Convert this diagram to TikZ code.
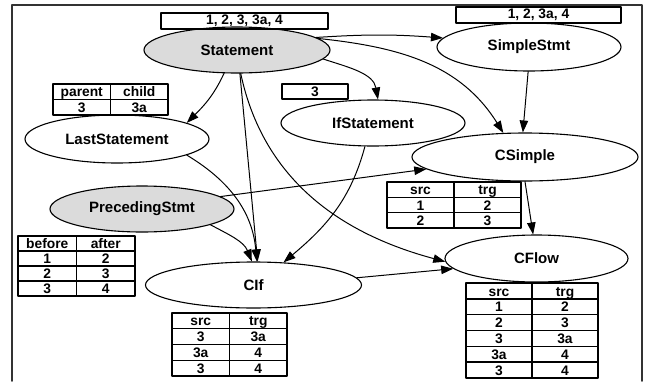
\documentclass[tikz,border=0pt]{standalone}
\usepackage{fontspec}
\setmainfont{Liberation Sans}
\usetikzlibrary{arrows.meta}
\usetikzlibrary{shapes.geometric}
\usetikzlibrary{matrix}
\definecolor{litegray}{gray}{0.86}
\tikzset{
  cls/.style={ellipse, draw, line width=1.1pt, inner sep=0pt, font=\fontsize{15}{18}\selectfont\bfseries},
  hit/.style={cls, fill=litegray},
  idbox/.style={draw, line width=1.1pt, inner sep=0pt, font=\fontsize{13.8}{16}\selectfont\bfseries},
  tbl/.style 2 args={matrix of nodes, column sep=-1.3pt, row sep=-1.3pt,
    nodes={draw, line width=1.3pt, inner sep=0pt, anchor=center, text height=10pt, text depth=0pt,
      minimum width=#1pt, minimum height=#2pt, font=\fontsize{13.8}{16}\selectfont\bfseries}},
}

\begin{document}
\begin{tikzpicture}[line cap=round,line join=round,>={Triangle[length=12pt,width=8.5pt]},x=1pt,y=-1pt]
\useasboundingbox (0,0) rectangle (649,381);
\draw [line width=1.5pt, color=black!80] (12,381)--(12,5)--(642,5)--(642,381);
% classes
\node[hit, minimum width=186pt, minimum height=46pt] (stmt) at (237,50) {Statement};
\node[cls, minimum width=184pt, minimum height=48pt] (simple) at (529,47) {SimpleStmt};
\node[cls, minimum width=184pt, minimum height=46pt] (ifst) at (373,123) {IfStatement};
\node[cls, minimum width=184pt, minimum height=48pt] (last) at (117,139) {LastStatement};
\node[cls, minimum width=226pt, minimum height=48pt] (csimple) at (525,157) {CSimple};
\node[hit, minimum width=184pt, minimum height=46pt] (preced) at (142,209) {PrecedingStmt};
\node[cls, minimum width=216pt, minimum height=46pt] (cif) at (253.5,285) {CIf};
\node[cls, minimum width=183pt, minimum height=47pt] (cflow) at (536.5,258.5) {CFlow};
% id sets
\node[idbox, minimum width=167pt, minimum height=16pt] (stmtids) at (244.5,21) {1, 2, 3, 3a, 4};
\node[idbox, minimum width=165pt, minimum height=16pt] (simpleids) at (538.5,15) {1, 2, 3a, 4};
\node[idbox, minimum width=66pt, minimum height=15pt] (ifids) at (315,91.5) {3};
% relations
\matrix (pc) [tbl={57.5}{15.5}] at (110.5,99.5) {
parent & child \\
3 & 3a \\
};
\matrix (ba) [tbl={58.5}{15}] at (76.5,266) {
before & after \\
1 & 2 \\
2 & 3 \\
3 & 4 \\
};
\matrix (rsimple) [tbl={67}{15.33}] at (454,205) {
src & trg \\
1 & 2 \\
2 & 3 \\
};
\matrix (rif) [tbl={57.5}{15.75}] at (229.5,344.5) {
src & trg \\
3 & 3a \\
3a & 4 \\
3 & 4 \\
};
\matrix (rflow) [tbl={66}{15.8}] at (532,330.5) {
src & trg \\
1 & 2 \\
2 & 3 \\
3 & 3a \\
3a & 4 \\
3 & 4 \\
};
% edges
\draw [->, line width=1pt] (stmt.9.5) to[bend left=4] (simple.174);
\draw [->, line width=1pt] (stmt.8) to[out=-6,in=122] (csimple.132);
\draw [->, line width=1pt] (stmt.-6) to[out=-18,in=100] (ifst.78);
\draw [->, line width=1pt] (stmt.-119) to[out=-115,in=45] (last.13);
\draw [->, line width=1pt] (stmt.-83) -- (cif.80);
\draw [->, line width=1pt] (stmt.-81) to[out=-78,in=165] (cflow.182);
\draw [->, line width=1pt] (last.-13) to[out=-31,in=95] (cif.82);
\draw [->, line width=1pt] (preced.-13) to[out=-28,in=112] (cif.94);
\draw [->, line width=1pt] (preced.9) -- (csimple.187);
\draw [->, line width=1pt] (ifst.-109) to[out=-105,in=40] (cif.37);
\draw [->, line width=1pt] (cif.4) -- (cflow.187);
\draw [->, line width=1pt] (simple.-92) -- (csimple.95);
\draw [->, line width=1pt] (csimple.-90) -- (cflow.98);
\end{tikzpicture}
\end{document}
